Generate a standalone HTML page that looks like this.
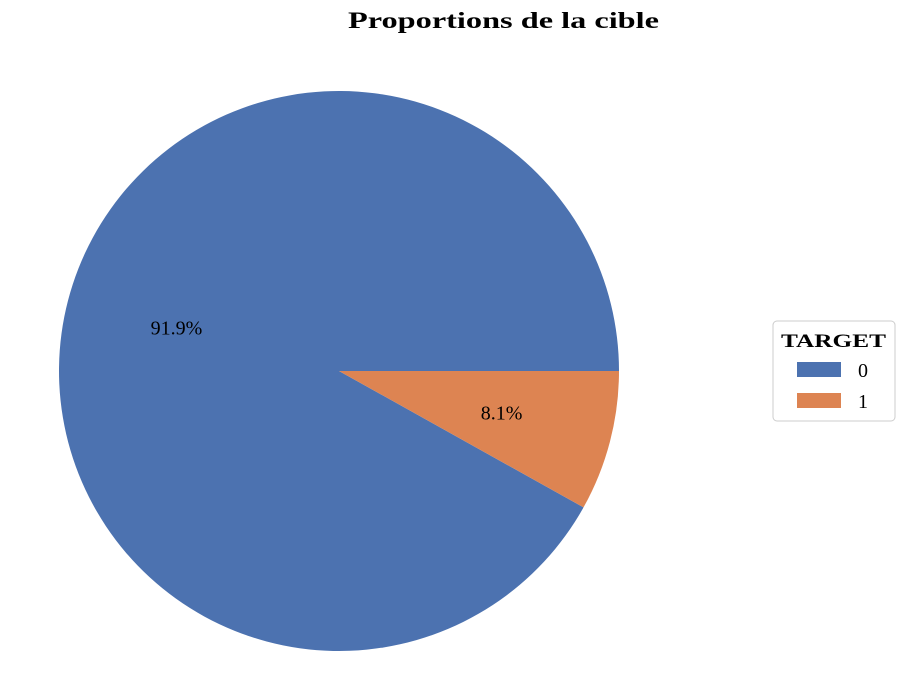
<!DOCTYPE html>
<html>
<head>
<meta charset="utf-8">
<style>
  html,body{margin:0;padding:0;background:#fff;}
  body{width:904px;height:689px;overflow:hidden;font-family:"Liberation Serif","DejaVu Serif",serif;}
</style>
</head>
<body>
<svg id="chart" width="904" height="689" viewBox="0 0 904 689" xmlns="http://www.w3.org/2000/svg">
  <text x="348" y="28" textLength="311" lengthAdjust="spacingAndGlyphs" font-size="23" font-weight="bold" font-family="Liberation Serif, serif">Proportions de la cible</text>
  <g id="slices"></g>
  <g id="labels"></g>
  <g>
    <rect x="773" y="321" width="122" height="100" rx="4" fill="#fff" stroke="#ccc" stroke-width="1"/>
    <text x="781" y="347" textLength="105" lengthAdjust="spacingAndGlyphs" font-size="19" font-weight="bold" font-family="Liberation Serif, serif">TARGET</text>
    <g id="legendEntries"></g>
  </g>
</svg>
<script>
const categories = ["0", "1"];
const values = [91.9, 8.1];
const pctLabels = ["91.9%", "8.1%"];
const colors = ["#4c72b0", "#dd8452"];

const cx = 339, cy = 371, r = 280;
const NS = "http://www.w3.org/2000/svg";
const total = values.reduce((a,b)=>a+b,0);
const slicesG = document.getElementById("slices");
const labelsG = document.getElementById("labels");
const legendG = document.getElementById("legendEntries");

let start = 0;
values.forEach((v, i) => {
  const sweep = v / total * 2 * Math.PI;
  const a0 = start, a1 = start + sweep;
  const x0 = cx + r * Math.cos(a0), y0 = cy - r * Math.sin(a0);
  const x1 = cx + r * Math.cos(a1), y1 = cy - r * Math.sin(a1);
  const large = sweep > Math.PI ? 1 : 0;
  const p = document.createElementNS(NS, "path");
  p.setAttribute("d", `M${cx},${cy} L${x0},${y0} A${r},${r} 0 ${large} 0 ${x1},${y1} Z`);
  p.setAttribute("fill", colors[i]);
  
  
  slicesG.appendChild(p);

  const mid = (a0 + a1) / 2;
  const lr = r * 0.6;
  const t = document.createElementNS(NS, "text");
  t.setAttribute("x", cx + lr * Math.cos(mid));
  t.setAttribute("y", cy - lr * Math.sin(mid) + 6);
  t.setAttribute("text-anchor", "middle");
  t.setAttribute("font-size", "20");
  t.setAttribute("font-family", "Liberation Serif, serif");
  t.textContent = pctLabels[i];
  
  
  labelsG.appendChild(t);

  const rect = document.createElementNS(NS, "rect");
  rect.setAttribute("x", 797);
  rect.setAttribute("y", 362 + i * 31);
  rect.setAttribute("width", 44);
  rect.setAttribute("height", 15);
  rect.setAttribute("fill", colors[i]);
  
  
  legendG.appendChild(rect);
  const lt = document.createElementNS(NS, "text");
  lt.setAttribute("x", 858);
  lt.setAttribute("y", 377 + i * 31);
  lt.setAttribute("font-size", "20");
  lt.setAttribute("font-family", "Liberation Serif, serif");
  lt.textContent = categories[i];
  
  
  legendG.appendChild(lt);

  start = a1;
});
</script>
</body>
</html>
